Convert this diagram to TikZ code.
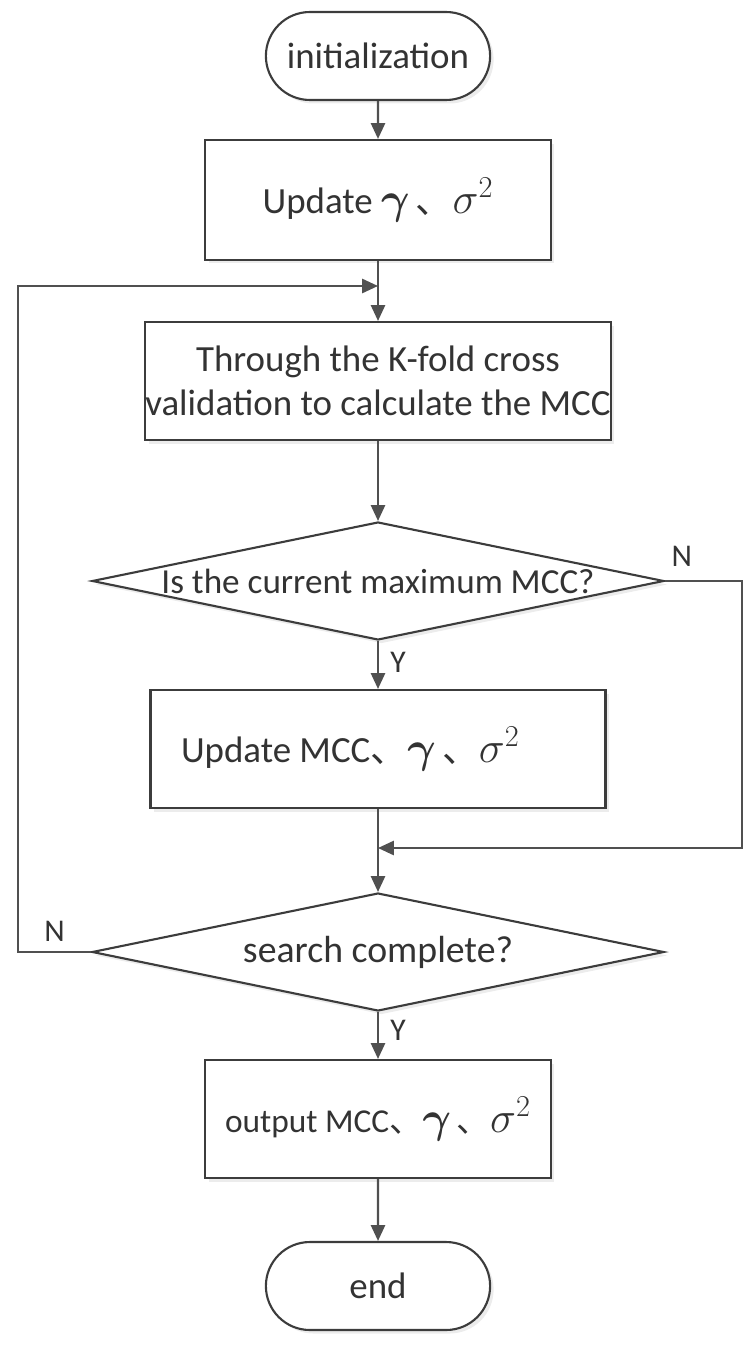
\documentclass[tikz,border=0pt]{standalone}
\usepackage{bm}
\usepackage{fontspec}
\setmainfont{Carlito}
\newfontfamily\cjkfont{Noto Sans CJK SC}
\usetikzlibrary{shapes.geometric,shapes.misc,arrows.meta,shadows}

\definecolor{linegray}{HTML}{505050}
\definecolor{boxgray}{HTML}{3C3C3C}
\definecolor{textgray}{HTML}{333333}

\newcommand{\dun}{{\cjkfont 、}}
\newcommand{\mgamma}{{\fontsize{25pt}{25pt}\selectfont$\bm{\gamma}$}}
\newcommand{\msigma}{{\fontsize{25pt}{25pt}\selectfont$\sigma^{2}$}}

\tikzset{
	flow/.style={line width=1.3pt, draw=linegray, -{Triangle[length=9pt, width=8pt]}},
	terminal/.style={rounded rectangle, draw=boxgray, line width=1.2pt, fill=white, minimum width=4.72cm, minimum height=1.76cm, font=\fontsize{21pt}{25pt}\selectfont, drop shadow={opacity=0.15, shadow xshift=2pt, shadow yshift=-2pt}},
	process/.style={rectangle, draw=boxgray, line width=1.2pt, fill=white, minimum height=2.36cm, align=center, font=\fontsize{21pt}{25pt}\selectfont, drop shadow={opacity=0.15, shadow xshift=2pt, shadow yshift=-2pt}},
	decision/.style={diamond, draw=boxgray, line width=1.2pt, fill=white, aspect=4.8, inner sep=0pt, minimum width=11.44cm, minimum height=2.36cm, font=\fontsize{20pt}{24pt}\selectfont, drop shadow={opacity=0.15, shadow xshift=2pt, shadow yshift=-2pt}},
	tag/.style={text=textgray, font=\fontsize{18pt}{21pt}\selectfont}
}

\begin{document}
\begin{tikzpicture}[x=0.02cm, y=-0.02cm, text=textgray]
	\useasboundingbox (0,0) rectangle (746,1354);

	\node at (378,56) [terminal] (init) {initialization};
	\node at (378,200) [process, minimum width=6.92cm, minimum height=2.4cm] (upd) {Update \mgamma\,\dun\msigma};
	\node at (378,381) [process, minimum width=9.28cm, inner xsep=0pt] (kfold) {Through the K-fold cross\\validation to calculate the MCC};
	\node at (378,581) [decision] (best) {\makebox[0pt]{Is the current maximum MCC?}};
	\node at (378,749) [process, minimum width=9.1cm] (updmcc) {Update MCC\dun\mgamma\,\dun\msigma\hspace{1.5em}};
	\node at (378,952) [decision, font=\fontsize{21.5pt}{24pt}\selectfont] (done) {\makebox[0pt]{search complete?}};
	\node at (378,1119) [process, minimum width=6.92cm, font=\fontsize{19pt}{23pt}\selectfont] (out) {output MCC\dun\mgamma\,\dun\msigma};
	\node at (378,1286) [terminal] (end) {end};

	\coordinate (join) at (378,286);
	\coordinate (merge) at (378,848);

	\draw [flow] (init) -- (upd);
	\draw [flow] (upd) -- (kfold);
	\draw [flow] (kfold) -- (best);
	\draw [flow] (best) -- (updmcc) node[pos=0.45, right=3pt, tag] {Y};
	\draw [flow] (updmcc) -- (done);
	\draw [flow] (done) -- (out) node[pos=0.4, right=3pt, tag] {Y};
	\draw [flow] (out) -- (end);

	% N branches
	\draw [flow] (best.east) -- (742,581) node[pos=0.22, above=4pt, tag] {N} -- (742,848) -- (merge);
	\draw [flow] (done.west) -- (18,952) node[pos=0.5, above=2pt, tag] {N} -- (18,286) -- (join);
\end{tikzpicture}
\end{document}
